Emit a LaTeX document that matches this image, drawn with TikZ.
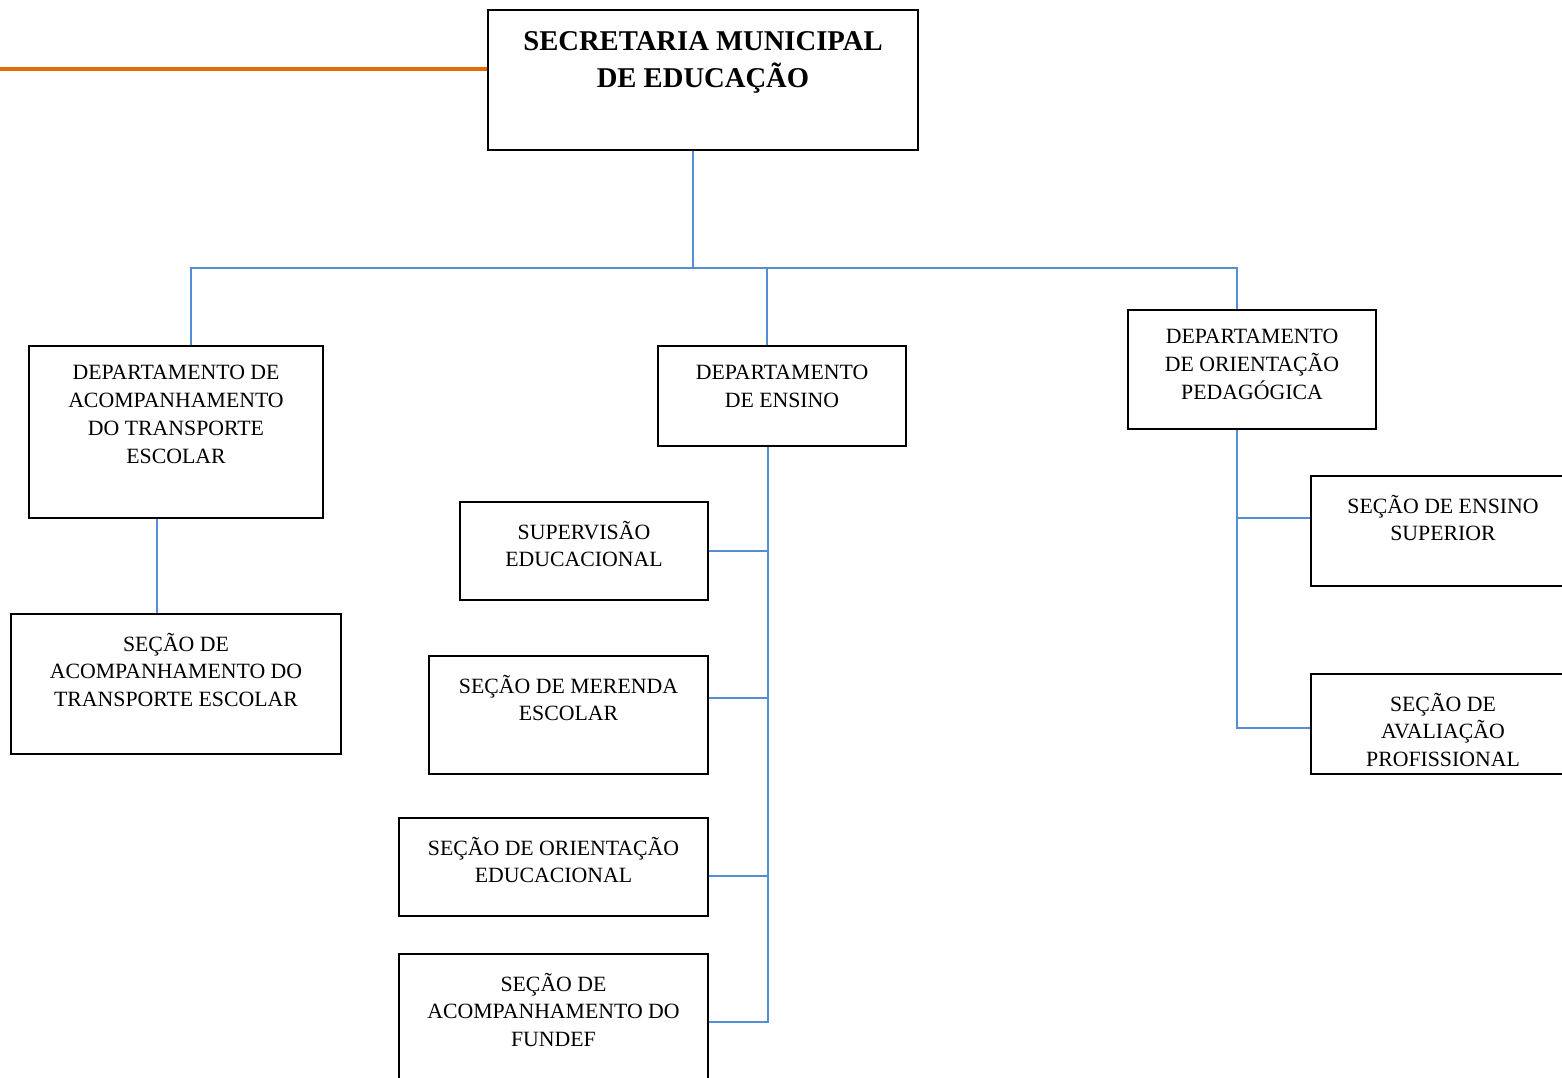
\documentclass[tikz,border=0pt]{standalone}
\usepackage{fontspec}
\setmainfont{Liberation Serif}
\usetikzlibrary{positioning}

\definecolor{linhaazul}{RGB}{85,142,213}
\definecolor{laranja}{RGB}{227,108,10}

\tikzset{
    caixa/.style={draw=black,line width=1pt,rectangle,inner sep=0pt},
    txt/.style={align=center,inner sep=0pt,font=\fontsize{12.4}{15.9}\selectfont,execute at begin node=\strut},
    titulo/.style={align=center,inner sep=0pt,font=\fontsize{16.3}{21}\selectfont\bfseries,execute at begin node=\strut},
    con/.style={draw=linhaazul,line width=1pt},
}

\begin{document}
\begin{tikzpicture}[x=0.02cm,y=-0.02cm]
        \useasboundingbox (0,0) rectangle (1562,1078);
        \clip (0,0) rectangle (1562,1078);

        %%%%%%% Secretaria %%%%%%%
        \node[caixa,minimum width=8.6cm,minimum height=2.8cm] (sme) at (703,80) {};
        \node[titulo,below=12.5pt of sme.north] (smeT) {SECRETARIA MUNICIPAL\\DE EDUCAÇÃO};
        \coordinate (borda) at (0,69);
        \draw[draw=laranja,line width=2.2pt] (borda) -- ([yshift=0.22cm]sme.west);

        %%%%%%% Departamentos %%%%%%%
        \node[caixa,minimum width=5.88cm,minimum height=3.44cm] (dat) at (176,432) {};
        \node[txt,below=11pt of dat.north] (datT) {DEPARTAMENTO DE\\ACOMPANHAMENTO\\DO TRANSPORTE\\ESCOLAR};

        \node[caixa,minimum width=4.96cm,minimum height=2cm] (den) at (782,396) {};
        \node[txt,below=11pt of den.north] (denT) {DEPARTAMENTO\\DE ENSINO};

        \node[caixa,minimum width=4.96cm,minimum height=2.38cm] (dop) at (1252,369.5) {};
        \node[txt,below=11pt of dop.north] (dopT) {DEPARTAMENTO\\DE ORIENTAÇÃO\\PEDAGÓGICA};

        %%%%%%% Secoes %%%%%%%
        \node[caixa,minimum width=6.6cm,minimum height=2.8cm] (sat) at (176,684) {};
        \node[txt,below=11pt of sat.north] (satT) {SEÇÃO DE\\ACOMPANHAMENTO DO\\TRANSPORTE ESCOLAR};

        \node[caixa,minimum width=4.96cm,minimum height=1.96cm] (sup) at (584,551) {};
        \node[txt,below=11pt of sup.north] (supT) {SUPERVISÃO\\EDUCACIONAL};

        \node[caixa,minimum width=5.58cm,minimum height=2.36cm] (mer) at (568.5,715) {};
        \node[txt,below=11pt of mer.north] (merT) {SEÇÃO DE MERENDA\\ESCOLAR};

        \node[caixa,minimum width=6.18cm,minimum height=1.96cm] (oed) at (553.5,867) {};
        \node[txt,below=11pt of oed.north] (oedT) {SEÇÃO DE ORIENTAÇÃO\\EDUCACIONAL};

        \node[caixa,minimum width=6.18cm,minimum height=2.72cm] (fun) at (553.5,1022) {};
        \node[txt,below=11pt of fun.north] (funT) {SEÇÃO DE\\ACOMPANHAMENTO DO\\FUNDEF};

        \node[caixa,minimum width=5.28cm,minimum height=2.2cm] (esu) at (1443,531) {};
        \node[txt,below=11pt of esu.north] (esuT) {SEÇÃO DE ENSINO\\SUPERIOR};

        \node[caixa,minimum width=5.28cm,minimum height=2cm] (ava) at (1443,724) {};
        \node[txt,below=11pt of ava.north] (avaT) {SEÇÃO DE\\AVALIAÇÃO\\PROFISSIONAL};

        %%%%%%% Ligacoes %%%%%%%
        \coordinate (barra) at (693,268);
        \draw[con] ([xshift=-0.2cm]sme.south) -- (barra);
        \draw[con] ([xshift=0.3cm]dat.north) |- (barra);
        \draw[con] ([xshift=-0.3cm]den.north) |- (barra);
        \draw[con] ([xshift=-0.3cm]dop.north) |- (barra);

        \draw[con] ([xshift=-0.38cm]dat.south) -- ([xshift=-0.38cm]sat.north);

        \coordinate (eixoE) at ([xshift=-0.28cm]den.south);
        \draw[con] (eixoE) |- (fun.east);
        \draw[con] (sup.east) -- (sup.east -| eixoE);
        \draw[con] ([yshift=0.34cm]mer.east) -- ([yshift=0.34cm]mer.east -| eixoE);
        \draw[con] ([yshift=-0.18cm]oed.east) -- ([yshift=-0.18cm]oed.east -| eixoE);

        \coordinate (eixoP) at ([xshift=-0.3cm]dop.south);
        \draw[con] (eixoP) |- ([yshift=-0.08cm]ava.west);
        \draw[con] ([yshift=0.26cm]esu.west) -- ([yshift=0.26cm]esu.west -| eixoP);
    \end{tikzpicture}
\end{document}
